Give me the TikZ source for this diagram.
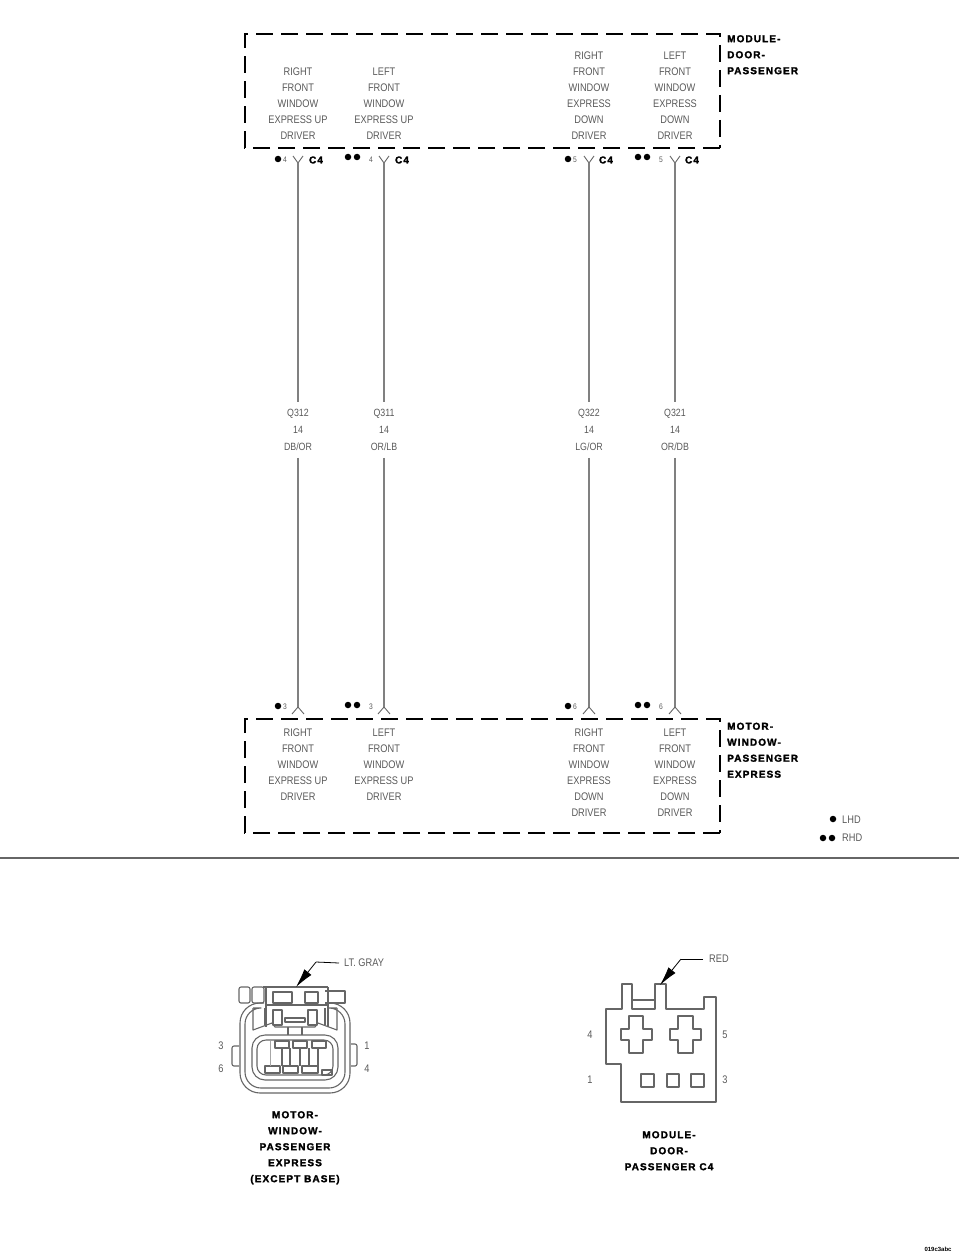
\documentclass[tikz,border=0pt]{standalone}
\usepackage{fontspec}
\setmainfont{Liberation Sans}
\newfontfamily\labelfont[FakeStretch=0.84]{Liberation Sans}
\newfontfamily\headfont[LetterSpace=11,FakeBold=2]{Liberation Sans Bold}
\usetikzlibrary{arrows.meta,positioning}
\definecolor{inkgray}{gray}{0.35}
\begin{document}
\begin{tikzpicture}
[x=1pt,y=-1pt,
txt/.style={inner sep=0pt,align=center,text=inkgray,font=\fontsize{11}{16}\labelfont},
wirelabel/.style={txt,inner xsep=0pt,inner ysep=7pt,font=\fontsize{10.5}{17}\labelfont},
pinno/.style={inner sep=0pt,text=inkgray,font=\fontsize{8}{10}\labelfont},
head/.style={inner sep=0pt,align=left,anchor=north west,font=\fontsize{10}{16}\headfont},
caption/.style={inner sep=0pt,align=center,anchor=north,font=\fontsize{10}{16}\headfont},
conn/.style={inner sep=0pt,font=\fontsize{10}{10}\headfont},
bullet/.style={circle,fill=black,inner sep=0pt,minimum size=6.5pt},
modbox/.style={draw=black,line width=1.6pt,dash pattern=on 17pt off 8pt},
wire/.style={draw=black!50,line width=1.2pt},
fork/.style={draw=black!60,line width=0.9pt},
body/.style={draw=black!60,line width=1.1pt,line join=round},
leader/.style={draw=black,line width=0.8pt}]
\useasboundingbox (0,0) rectangle (960,1257);

% top module
\draw[modbox] (720,148) -- (245,148) -- (245,34) -- (720,34) -- (720,148);
\node[head] (modtop) at (727,35) {MODULE-\\DOOR-\\PASSENGER};
\node[txt] (t1) at (298,104) {RIGHT\\FRONT\\WINDOW\\EXPRESS UP\\DRIVER};
\node[txt] (t2) at (384,104) {LEFT\\FRONT\\WINDOW\\EXPRESS UP\\DRIVER};
\node[txt] (t3) at (589,96) {RIGHT\\FRONT\\WINDOW\\EXPRESS\\DOWN\\DRIVER};
\node[txt] (t4) at (675,96) {LEFT\\FRONT\\WINDOW\\EXPRESS\\DOWN\\DRIVER};

% top pins
\coordinate (a1) at (298,163);
\coordinate (a2) at (384,163);
\coordinate (a3) at (589,163);
\coordinate (a4) at (675,163);
\node[bullet] (ad1) at (278,159) {};
\node[pinno] (an1) at (285,160) {4};
\node[conn] (ac1) at (316,160) {C4};
\node[bullet] (ad2a) at (348,157) {};
\node[bullet] (ad2b) at (357,157) {};
\node[pinno] (an2) at (371,160) {4};
\node[conn] (ac2) at (402,160) {C4};
\node[bullet] (ad3) at (568,159) {};
\node[pinno] (an3) at (575,160) {5};
\node[conn] (ac3) at (606,160) {C4};
\node[bullet] (ad4a) at (638,157) {};
\node[bullet] (ad4b) at (647,157) {};
\node[pinno] (an4) at (661,160) {5};
\node[conn] (ac4) at (692,160) {C4};
\draw[fork] (a1) -- +(-5,-7) (a1) -- +(5,-7);
\draw[fork] (a2) -- +(-5,-7) (a2) -- +(5,-7);
\draw[fork] (a3) -- +(-5,-7) (a3) -- +(5,-7);
\draw[fork] (a4) -- +(-5,-7) (a4) -- +(5,-7);

% wire labels
\node[wirelabel] (q1) at (298,430) {Q312\\14\\DB/OR};
\node[wirelabel] (q2) at (384,430) {Q311\\14\\OR/LB};
\node[wirelabel] (q3) at (589,430) {Q322\\14\\LG/OR};
\node[wirelabel] (q4) at (675,430) {Q321\\14\\OR/DB};

% bottom pins
\coordinate (b1) at (298,707);
\coordinate (b2) at (384,707);
\coordinate (b3) at (589,707);
\coordinate (b4) at (675,707);
\node[bullet] (bd1) at (278,706) {};
\node[pinno] (bn1) at (285,707) {3};
\node[bullet] (bd2a) at (348,705) {};
\node[bullet] (bd2b) at (357,705) {};
\node[pinno] (bn2) at (371,707) {3};
\node[bullet] (bd3) at (568,706) {};
\node[pinno] (bn3) at (575,707) {6};
\node[bullet] (bd4a) at (638,705) {};
\node[bullet] (bd4b) at (647,705) {};
\node[pinno] (bn4) at (661,707) {6};
\draw[fork] (b1) -- +(-6,7) (b1) -- +(6,7);
\draw[fork] (b2) -- +(-6,7) (b2) -- +(6,7);
\draw[fork] (b3) -- +(-6,7) (b3) -- +(6,7);
\draw[fork] (b4) -- +(-6,7) (b4) -- +(6,7);

\draw[wire] (a1) -- (q1);
\draw[wire] (a2) -- (q2);
\draw[wire] (a3) -- (q3);
\draw[wire] (a4) -- (q4);
\draw[wire] (q1) -- (b1);
\draw[wire] (q2) -- (b2);
\draw[wire] (q3) -- (b3);
\draw[wire] (q4) -- (b4);

% bottom module
\draw[modbox] (720,833) -- (245,833) -- (245,719) -- (720,719) -- (720,833);
\node[head] (modbot) at (727,722.5) {MOTOR-\\WINDOW-\\PASSENGER\\EXPRESS};
\node[txt] (s1) at (298,765) {RIGHT\\FRONT\\WINDOW\\EXPRESS UP\\DRIVER};
\node[txt] (s2) at (384,765) {LEFT\\FRONT\\WINDOW\\EXPRESS UP\\DRIVER};
\node[txt] (s3) at (589,773) {RIGHT\\FRONT\\WINDOW\\EXPRESS\\DOWN\\DRIVER};
\node[txt] (s4) at (675,773) {LEFT\\FRONT\\WINDOW\\EXPRESS\\DOWN\\DRIVER};

% legend
\node[bullet] (l1) at (833,819) {};
\node[txt,anchor=west] (lhd) at (842,820) {LHD};
\node[bullet] (l2a) at (823,838) {};
\node[bullet] (l2b) at (832,838) {};
\node[txt,anchor=west] (rhd) at (842,838) {RHD};
\draw[draw=black!60,line width=1.2pt] (0,858) -- (959,858);

% motor connector view
\draw[body,rounded corners=20pt] (264,1003) -- (240,1003) -- (240,1093) -- (350,1093) -- (350,1003) -- (326,1003);
\draw[body,rounded corners=16pt] (253,1008) -- (245,1008) -- (245,1088) -- (345,1088) -- (345,1008) -- (337,1008);
\draw[body,rounded corners=13pt] (252,1035) rectangle (338,1080);
\draw[body,rounded corners=9pt] (257,1040) rectangle (333,1075);
\draw[body,rounded corners=2pt] (239,1046) -- (232,1046) -- (232,1066) -- (239,1066);
\draw[body,rounded corners=2pt] (351,1044) -- (357,1044) -- (357,1066) -- (351,1066);
% latch
\draw[body,rounded corners=2pt] (239,987) rectangle (250,1003);
\draw[body,rounded corners=2pt] (252,987) rectangle (264,1003);
\draw[body] (263,987) -- (328,987);
\draw[body] (266,987) -- (266,1027);
\draw[body] (328,987) -- (328,1027);
\draw[body] (266,1005) -- (328,1005);
\draw[body] (325,991) -- (345,991) -- (345,1003) -- (325,1003);
\draw[body] (273,992) rectangle (292,1003);
\draw[body] (305,992) rectangle (318,1003);
\draw[body] (253,1008) -- (253,1030) -- (272,1023) -- (275,1027) -- (315,1027) -- (318,1023) -- (337,1030) -- (337,1008);
\draw[body] (265,1008) -- (265,1025);
\draw[body] (325,1008) -- (325,1025);
\draw[body] (273,1010) rectangle (282,1025);
\draw[body] (308,1010) rectangle (317,1025);
\draw[body] (285,1018) -- (305,1018) -- (305,1022) -- (285,1022) -- cycle;
\draw[body] (288,1027) -- (288,1035) (302,1027) -- (302,1035);
% terminals
\draw[body] (275,1041) rectangle (289,1048);
\draw[body] (293,1041) rectangle (307,1048);
\draw[body] (312,1041) rectangle (326,1048);
\draw[body] (282,1048) -- (282,1066) (290,1048) -- (290,1066) (300,1048) -- (300,1066) (309,1048) -- (309,1066) (318,1048) -- (318,1066);
\draw[body] (265,1066) rectangle (280,1073);
\draw[body] (283,1066) rectangle (298,1073);
\draw[body] (302,1066) rectangle (318,1073);
\draw[body] (322,1070) rectangle (332,1075);
\draw[draw=black!35,line width=0.7pt] (270,1041) -- (270,1066);
\node[txt] (m3) at (221,1046) {3};
\node[txt] (m6) at (221,1069) {6};
\node[txt] (m1) at (367,1046) {1};
\node[txt] (m4) at (367,1069) {4};
\node[txt,anchor=west,inner xsep=5pt] (gray) at (339,963) {LT. GRAY};
\coordinate (gbend) at (316,962);
\coordinate (gtip) at (296,987);
\draw[leader] (gray.west) -- (gbend);
\draw[leader,-{Latex[length=19pt,width=9pt]}] (gbend) -- (gtip);
\node[caption] (capm) at (295,1111) {MOTOR-\\WINDOW-\\PASSENGER\\EXPRESS\\(EXCEPT BASE)};

% door connector view
\draw[body] (606,1009) -- (622,1009) -- (622,984) -- (632,984) -- (632,1009) -- (655,1009) -- (655,984) -- (666,984) -- (666,1009) -- (704,1009) -- (704,997) -- (716,997) -- (716,1102) -- (621,1102) -- (621,1064) -- (606,1064) -- cycle;
\draw[body] (632,1000) -- (655,1000);
\draw[body] (629,1016) -- (643,1016) -- (643,1029) -- (652,1029) -- (652,1040) -- (643,1040) -- (643,1053) -- (629,1053) -- (629,1040) -- (621,1040) -- (621,1029) -- (629,1029) -- cycle;
\draw[body] (678,1016) -- (693,1016) -- (693,1029) -- (701,1029) -- (701,1040) -- (693,1040) -- (693,1053) -- (678,1053) -- (678,1040) -- (670,1040) -- (670,1029) -- (678,1029) -- cycle;
\draw[body] (641,1074) rectangle (654,1087);
\draw[body] (667,1074) rectangle (679,1087);
\draw[body] (691,1074) rectangle (704,1087);
\node[txt] (d4) at (590,1035) {4};
\node[txt] (d5) at (725,1035) {5};
\node[txt] (d1) at (590,1080) {1};
\node[txt] (d3) at (725,1080) {3};
\node[txt,anchor=west,inner xsep=6pt] (red) at (703,959) {RED};
\coordinate (rbend) at (681,959);
\coordinate (rtip) at (660,985);
\draw[leader] (red.west) -- (rbend);
\draw[leader,-{Latex[length=19pt,width=9pt]}] (rbend) -- (rtip);
\node[caption] (capd) at (669,1131) {MODULE-\\DOOR-\\PASSENGER C4};

\node[inner sep=0pt,font=\fontsize{6}{6}\bfseries] (code) at (938,1249) {019c3abc};
\end{tikzpicture}
\end{document}
